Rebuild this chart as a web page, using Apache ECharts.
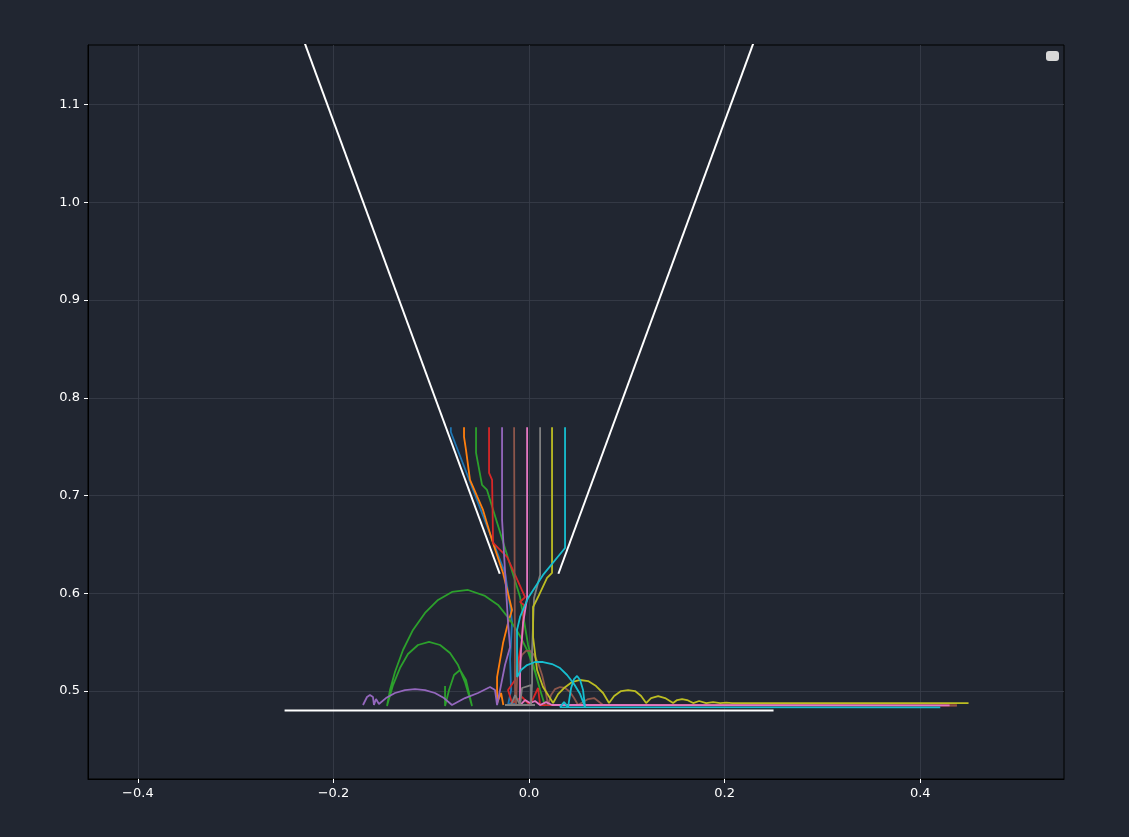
<!DOCTYPE html>
<html>
<head>
<meta charset="utf-8">
<script src="https://cdn.jsdelivr.net/npm/echarts@6/dist/echarts.min.js"></script>
<style>
html,body{margin:0;padding:0;background:#212631;}
#chart{width:1129px;height:837px;}
</style>
</head>
<body>
<div id="chart"></div>
<script>
// ---- data ----
const xTicks = [-0.4, -0.2, 0.0, 0.2, 0.4];
const yTicks = [0.5, 0.6, 0.7, 0.8, 0.9, 1.0, 1.1];
const xRange = [-0.451, 0.547];
const yRange = [0.41, 1.161];

const funnelLeft = [[-0.03, 0.62], [-0.243, 1.2]];
const funnelRight = [[0.03, 0.62], [0.243, 1.2]];
const floorLine = [[-0.25, 0.48], [0.25, 0.48]];

const pathBlue = [[-0.080,0.770],[-0.080,0.765],[-0.0245,0.6208],[-0.0194,0.5870],[-0.0174,0.5706],[-0.0194,0.5327],[-0.0184,0.5010],[-0.0215,0.4857],[-0.017,0.4885],[-0.014,0.4857]];
const pathOrange = [[-0.0665,0.770],[-0.0665,0.7601],[-0.0645,0.7467],[-0.0604,0.716],[-0.0471,0.6853],[-0.0379,0.6546],[-0.0266,0.6208],[-0.0174,0.5829],[-0.0215,0.5696],[-0.0266,0.5491],[-0.0327,0.5143],[-0.0327,0.4877],[-0.0286,0.498],[-0.0263,0.4857]];
const pathGreen = [[-0.0542,0.770],[-0.0542,0.7437],[-0.0481,0.7109],[-0.0430,0.7058],[-0.0092,0.5962],[-0.0010,0.5471],[0.0113,0.5010],[0.0164,0.4846],
  [0.0113,0.5010],[0.0061,0.5195],[-0.0010,0.5399],[-0.0092,0.5563],[-0.0194,0.5727],[-0.0317,0.5881],[-0.0450,0.5973],[-0.0624,0.6034],[-0.0788,0.6014],[-0.0931,0.5932],[-0.1064,0.5799],[-0.1187,0.5625],[-0.1289,0.5420],[-0.1371,0.5195],[-0.1422,0.5010],[-0.1453,0.4846],
  [-0.1391,0.5061],[-0.1320,0.5235],[-0.1238,0.5379],[-0.1136,0.5471],[-0.1023,0.5502],[-0.0910,0.5471],[-0.0808,0.5389],[-0.0726,0.5266],[-0.0655,0.5092],[-0.0583,0.4846],
  [-0.0645,0.5113],[-0.0706,0.5215],[-0.0767,0.5164],[-0.0818,0.5010],[-0.0859,0.4846],[-0.0859,0.5051],[-0.0859,0.4846]];
const pathRed = [[-0.0409,0.770],[-0.0409,0.7232],[-0.0378,0.7160],[-0.0368,0.6515],[-0.0225,0.6372],[-0.0041,0.5962],[-0.0092,0.5911],[-0.0051,0.5880],[-0.0072,0.5522],[-0.0143,0.5113],[-0.0215,0.5010],[-0.0174,0.4877],[-0.0072,0.4939],[0.0010,0.4857],[0.0092,0.5031],[0.0113,0.4857],[0.4375,0.4854]];
const pathPurple = [[-0.0276,0.770],[-0.0276,0.6751],[-0.0215,0.5696],[-0.0194,0.5450],[-0.0246,0.5266],[-0.0297,0.5010],[-0.0327,0.4857],[-0.0348,0.5010],[-0.0399,0.5041],[-0.0522,0.4980],[-0.0655,0.4928],[-0.0788,0.4857],
  [-0.0870,0.4928],[-0.0962,0.4980],[-0.1064,0.5010],[-0.1166,0.5020],[-0.1269,0.5010],[-0.1371,0.4980],[-0.1463,0.4928],[-0.1535,0.4867],
  [-0.1565,0.4918],[-0.1586,0.4857],[-0.1596,0.4939],[-0.1627,0.4959],[-0.1657,0.4939],[-0.1698,0.4857]];
const pathBrown = [[-0.0153,0.770],[-0.0143,0.4908],[-0.0133,0.4857],[-0.0123,0.5113],[-0.0102,0.5276],[-0.0072,0.5369],[-0.0031,0.5410],[0.0010,0.5410],[0.0051,0.5369],[0.0092,0.5287],[0.0133,0.5164],[0.0164,0.5031],[0.0194,0.4857],
  [0.0225,0.4959],[0.0266,0.5020],[0.0317,0.5041],[0.0368,0.5031],[0.0419,0.4990],[0.0460,0.4928],[0.0501,0.4857],[0.0604,0.4918],[0.0665,0.4928],[0.0757,0.4857],[0.4375,0.4852]];
const pathPink = [[-0.0020,0.770],[-0.0020,0.5952],[-0.0061,0.5696],[-0.0082,0.5420],[-0.0092,0.5164],[-0.0092,0.4857],[-0.0041,0.4908],[0.0010,0.4877],[0.0061,0.4898],[0.0113,0.4857],[0.0174,0.4887],[0.0235,0.4857],[0.4300,0.4854]];
const pathGray = [[0.0113,0.770],[0.0113,0.6188],[0.0051,0.5952],[0.0031,0.5420],[0.0031,0.5082],[0.0020,0.4857],[0.0020,0.5061],[-0.0072,0.5031],[-0.0092,0.4857],[-0.0143,0.4959],[-0.0184,0.4857],[-0.0246,0.4857],[0.0061,0.4857]];
const pathOlive = [[0.0235,0.770],[0.0235,0.6208],[0.0184,0.6157],[0.0092,0.5962],[0.0041,0.5860],[0.0041,0.5553],[0.0082,0.5215],[0.0143,0.5041],[0.0246,0.4877],
  [0.0297,0.4969],[0.0358,0.5031],[0.0440,0.5092],[0.0522,0.5113],[0.0604,0.5102],[0.0685,0.5051],[0.0757,0.4980],[0.0818,0.4877],
  [0.0870,0.4949],[0.0941,0.5000],[0.1013,0.5010],[0.1084,0.5000],[0.1146,0.4949],[0.1197,0.4877],
  [0.1248,0.4928],[0.1320,0.4949],[0.1391,0.4928],[0.1473,0.4877],
  [0.1514,0.4908],[0.1565,0.4918],[0.1616,0.4908],[0.1678,0.4877],
  [0.1739,0.4898],[0.1811,0.4877],[0.1882,0.4887],[0.1954,0.4877],[0.2015,0.4882],[0.2077,0.4877],[0.4494,0.4877]];
const pathCyan = [[0.0368,0.770],[0.0368,0.6464],[0.0143,0.6188],[-0.0010,0.5952],[-0.0092,0.5758],[-0.0123,0.5625],[-0.0123,0.5143],
  [-0.0082,0.5215],[-0.0020,0.5266],[0.0061,0.5297],[0.0143,0.5297],[0.0235,0.5276],[0.0317,0.5235],[0.0389,0.5164],[0.0460,0.5072],[0.0522,0.4969],[0.0573,0.4836],
  [0.0552,0.5010],[0.0522,0.5113],[0.0491,0.5154],[0.0460,0.5123],[0.0430,0.5031],[0.0399,0.4836],[0.0358,0.4887],[0.0317,0.4836],[0.4205,0.4833]];

const particlePaths = [pathBlue, pathOrange, pathGreen, pathRed, pathPurple, pathBrown, pathPink, pathGray, pathOlive, pathCyan];
const particleColors = ['#1f77b4','#ff7f0e','#2ca02c','#d62728','#9467bd','#8c564b','#e377c2','#7f7f7f','#bcbd22','#17becf'];

// ---- chart ----
const chart = echarts.init(document.getElementById('chart'), null, {renderer: 'canvas'});
const fmt = v => {
  const s = Math.abs(v).toFixed(1);
  return (v < -1e-9 ? '\u2212' : '') + s;
};
const font = 'DejaVu Sans';

const series = [];
[funnelLeft, funnelRight, floorLine].forEach(p => {
  series.push({type:'line', data:p, showSymbol:false, symbol:'none', clip:true, silent:true,
    lineStyle:{color:'#ffffff', width:2}, z:2});
});
particlePaths.forEach((p, i) => {
  series.push({type:'line', data:p, showSymbol:false, symbol:'none', clip:true, silent:true,
    lineStyle:{color:particleColors[i], width:1.8}, z:3});
});

chart.setOption({
  backgroundColor: '#212631',
  animation: false,
  grid: {left:88, top:45, width:976, height:734, show:true, borderColor:'#000000', borderWidth:1, backgroundColor:'#212631'},
  xAxis: {
    type:'value', min:xRange[0], max:xRange[1],
    axisLine:{show:true, onZero:false, lineStyle:{color:'#000000'}},
    axisTick:{show:true, length:4, customValues:xTicks, lineStyle:{color:'#ffffff'}},
    axisLabel:{customValues:xTicks, color:'#ffffff', fontFamily:font, fontSize:13, margin:8, formatter:fmt},
    splitLine:{show:true, lineStyle:{color:'#3a3f4a', width:0.8}}
  },
  yAxis: {
    type:'value', min:yRange[0], max:yRange[1],
    axisLine:{show:true, onZero:false, lineStyle:{color:'#000000'}},
    axisTick:{show:true, length:4, customValues:yTicks, lineStyle:{color:'#ffffff'}},
    axisLabel:{customValues:yTicks, color:'#ffffff', fontFamily:font, fontSize:13, margin:8, formatter:fmt},
    splitLine:{show:true, lineStyle:{color:'#3a3f4a', width:0.8}}
  },
  graphic: [{type:'rect', right: 1129-1059, top: 51, shape:{width:13, height:10, r:3}, style:{fill:'#d8d8d8'}}],
  series: series
});
</script>
</body>
</html>
